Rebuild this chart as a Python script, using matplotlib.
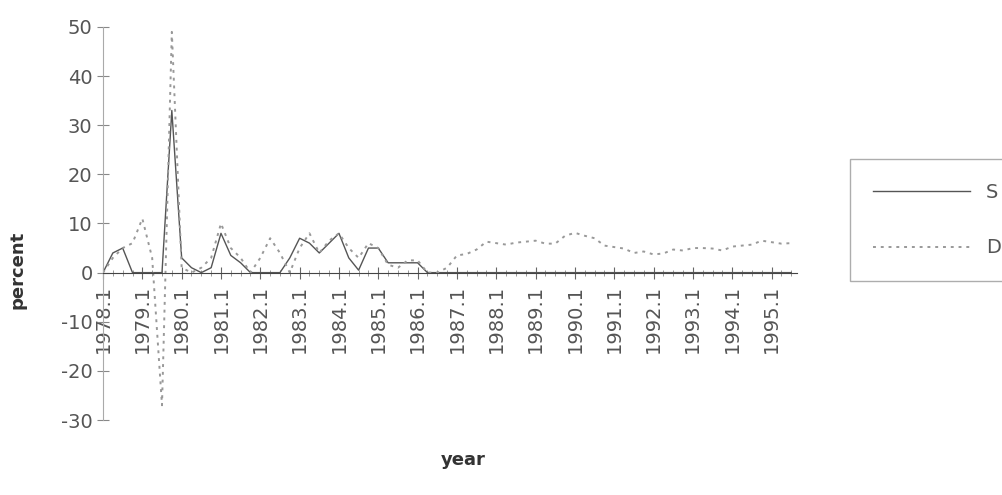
import numpy as np
import matplotlib.pyplot as plt

plt.rcParams['axes.unicode_minus'] = False

# quarters 1978.1 .. 1995.3
years = np.arange(1978, 1996)
quarters = [f"{y}.{q}" for y in years for q in range(1, 5)][:71]
tick_labels = [f"{y}.1" for y in years]

S = [0, 4, 5, 0, 0, 0, 0, 33, 3, 1, 0, 1,
     8, 3.5, 2, 0, 0, 0, 0, 3, 7, 6, 4, 6,
     8, 3, 0.5, 5, 5, 2, 2, 2, 2, 0, 0, 0,
     0, 0, 0, 0, 0, 0, 0, 0, 0, 0, 0, 0,
     0, 0, 0, 0, 0, 0, 0, 0, 0, 0, 0, 0,
     0, 0, 0, 0, 0, 0, 0, 0, 0, 0, 0]

D = [0, 3, 5, 6, 11, 3, -27, 49, 1, 0, 1, 3,
     10, 5, 3, 0, 3, 7, 4, 0, 5, 8, 4, 6.5,
     8, 5, 3, 6, 5, 1.6, 1, 2.5, 2.5, 0, 0, 1,
     3.5, 3.8, 4.7, 6.3, 6.0, 5.7, 6.1, 6.3, 6.5, 5.9, 5.9, 7.5,
     8.1, 7.5, 7.0, 5.5, 5.2, 4.9, 4.0, 4.3, 3.7, 3.9, 4.7, 4.5,
     5.0, 5.0, 4.9, 4.5, 5.3, 5.5, 5.7, 6.5, 6.2, 5.9, 6.0]

x = np.arange(len(quarters))

fig = plt.figure(figsize=(10.03, 4.95), dpi=100)
ax = fig.add_axes([0.1027, 0.1515, 0.692, 0.794])

txt = '#555555'

ax.plot(x, S, color='#555555', lw=1.0, label='S')
ax.plot(x, D, color='#999999', lw=1.4, ls=(0, (1.5, 2.5)), label='D')

ax.set_ylim(-30, 50)
ax.set_yticks(range(-30, 51, 10))
ax.set_xlim(0, 70.6)
ax.set_xticks(x[::4])
ax.set_xticklabels(tick_labels)
ax.set_xticks(x, minor=True)

for s in ['top', 'right']:
    ax.spines[s].set_visible(False)
ax.spines['bottom'].set_position(('data', 0))
ax.spines['bottom'].set_color('#444444')
ax.spines['left'].set_color('#aaaaaa')

ax.tick_params(axis='y', labelsize=14, labelcolor=txt, direction='inout',
               length=8, color='#888888')
ax.tick_params(axis='x', which='major', direction='inout', length=8,
               color='#666666', pad=5, labelsize=14, labelcolor=txt,
               labelrotation=90)
ax.tick_params(axis='x', which='minor', direction='inout', length=5,
               color='#888888')

fig.text(0.017, 1 - 270 / 495, 'percent', rotation=90, ha='center',
         va='center', fontsize=13, fontweight='bold', color='#333333')
fig.text(463 / 1003, 1 - 460 / 495, 'year', ha='center', va='center',
         fontsize=13, fontweight='bold', color='#333333')

leg = fig.legend(loc='center left', bbox_to_anchor=(840 / 1003, 1 - 220 / 495),
                 fontsize=14, handlelength=5, labelspacing=1.9,
                 borderpad=1.2, fancybox=False, edgecolor='#999999',
                 handletextpad=0.8)
for t in leg.get_texts():
    t.set_color(txt)

fig.savefig('out.png', dpi=100)
